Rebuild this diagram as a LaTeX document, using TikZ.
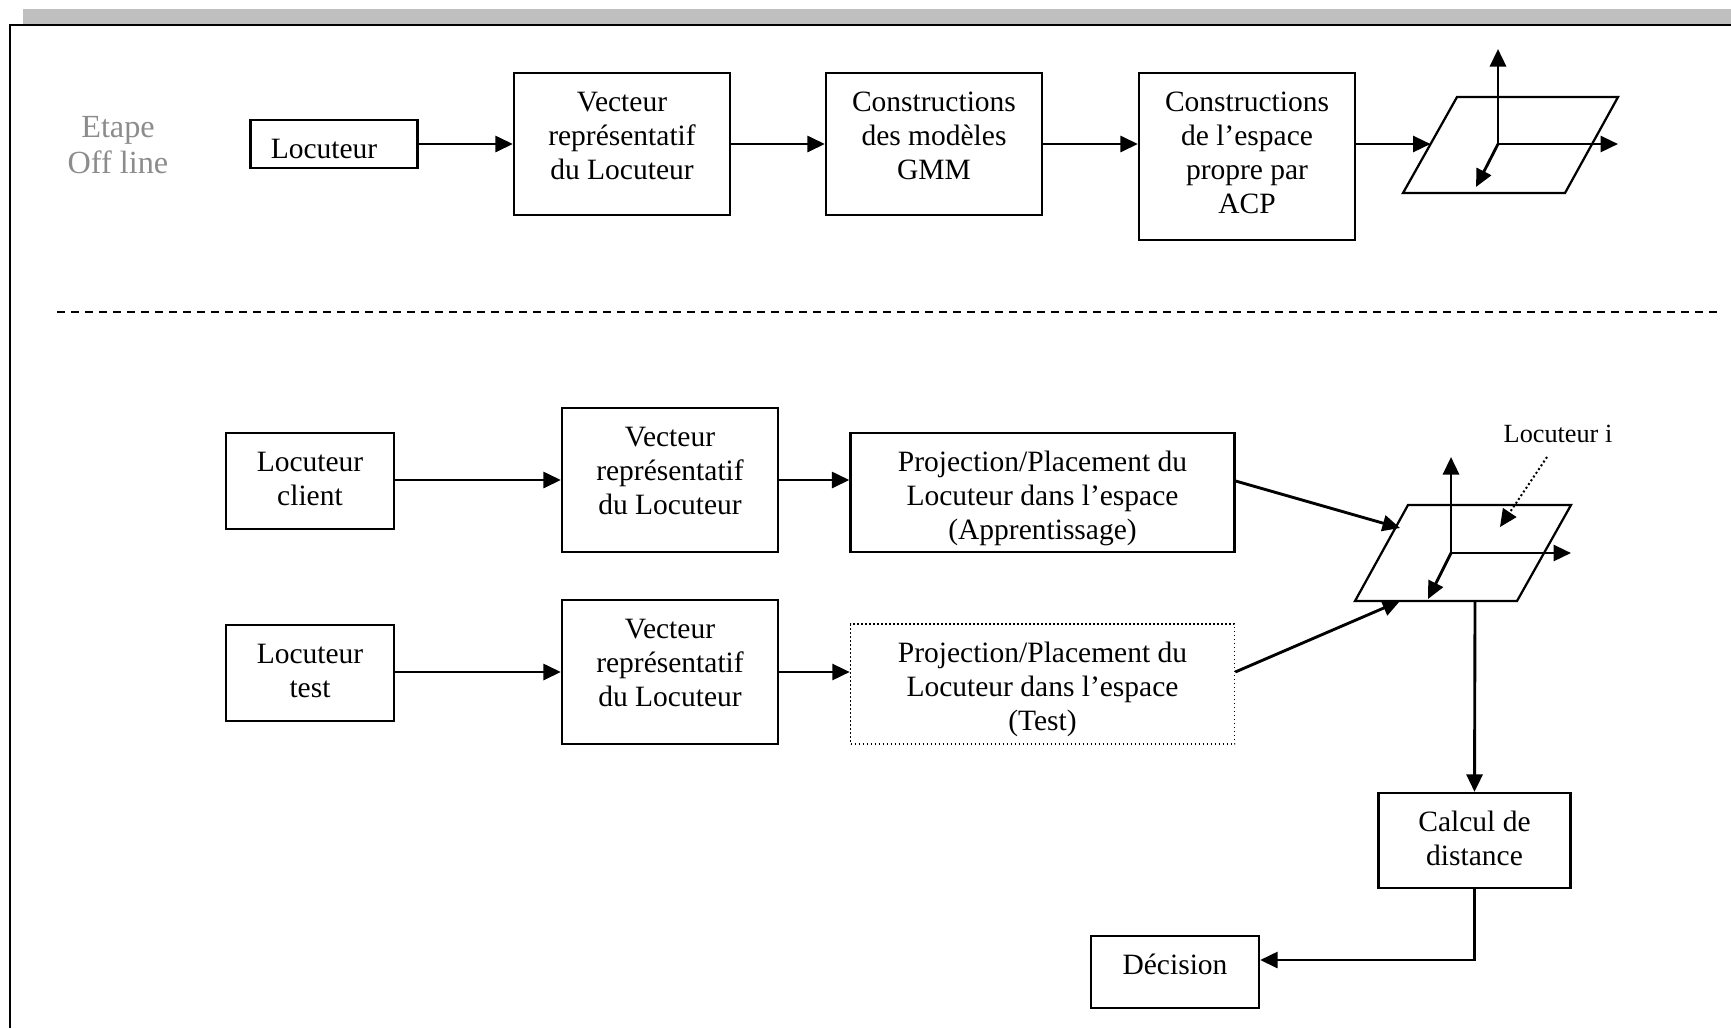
\documentclass[tikz,border=0pt]{standalone}
\usepackage{fontspec}
\setmainfont{Liberation Serif}
\usetikzlibrary{arrows.meta,calc}

\tikzset{
  blk/.style={draw, line width=0.9pt, inner sep=0pt},
  dotblk/.style={draw, line width=0.6pt, densely dotted, inner sep=0pt},
  txt/.style={anchor=north, align=center, inner sep=0pt,
              font=\fontsize{11.8pt}{13.6pt}\selectfont},
  tip/.style={-{Triangle[length=7pt,width=6.4pt]}},
  arr/.style={line width=1.15pt, tip},
  plane/.style={line width=0.9pt, line join=miter},
  axis/.style={line width=1.15pt, tip},
}
% caption placed inside a box, first baseline at a fixed depth below the top edge
\newcommand{\boxtext}[3]{\node[txt] (#2) at ($(#1.north)+(0,15)$) {\strut #3};}

\begin{document}
\begin{tikzpicture}[x=0.4pt, y=-0.4pt]
\useasboundingbox (0,0) rectangle (1731,1028);

% page frame with its grey top band
\fill[black!25] (23,8.5) rectangle (1731,24);
\draw[line width=1pt] (10,1028) -- (10,25) -- (1731,25);

% ---------- off-line stage ----------
\node[text=black!45, align=center, font=\fontsize{12.9pt}{14.4pt}\selectfont] (etape) at (118,145) {Etape\\Off line};

\node[blk, minimum width=66.8pt, minimum height=19.2pt] (loc0) at (334,144) {};
\node[blk, minimum width=86.4pt, minimum height=56.8pt] (vec0) at (622,144) {};
\node[blk, minimum width=86.4pt, minimum height=56.8pt] (gmm) at (934,144) {};
\node[blk, minimum width=86.4pt, minimum height=66.8pt] (acp) at (1247,156.5) {};
\boxtext{loc0}{loc0t}{Locuteur\hspace{8pt}}
\boxtext{vec0}{vec0t}{Vecteur\\représentatif\\du Locuteur}
\boxtext{gmm}{gmmt}{Constructions\\des modèles\\GMM}
\boxtext{acp}{acpt}{Constructions\\de l’espace\\propre par\\ACP}

% eigen-space sketch (off-line)
\coordinate (a1) at (1457,97);
\coordinate (b1) at (1618,97);
\coordinate (c1) at (1565,193);
\coordinate (d1) at (1403,193);
\coordinate (o1) at (1498,144);
\coordinate (p1w) at (1430.5,144);
\draw[plane] (a1) -- (b1) -- (c1) -- (d1) -- cycle;
\draw[axis] (o1) -- (1498,49);
\draw[axis] (o1) -- (1618,144);
\draw[axis] (o1) -- (1476,187);

\draw[arr] (loc0) -- (vec0);
\draw[arr] (vec0) -- (gmm);
\draw[arr] (gmm) -- (acp.west |- gmm.east);
\draw[arr] (acp.east |- p1w) -- (p1w);

% stage separator
\draw[line width=0.9pt, dash pattern=on 3pt off 2.6pt] (57,312) -- (1717,312);

% ---------- on-line stage ----------
\node[blk, minimum width=67.2pt, minimum height=38.4pt] (cli) at (310,481) {};
\node[blk, minimum width=86.4pt, minimum height=57.6pt] (vec1) at (670,480) {};
\node[blk, minimum width=153.6pt, minimum height=47.6pt] (proj1) at (1042.5,492.5) {};
\node[blk, minimum width=67.2pt, minimum height=38.4pt] (tst) at (310,673) {};
\node[blk, minimum width=86.4pt, minimum height=57.6pt] (vec2) at (670,672) {};
\node[dotblk, minimum width=153.6pt, minimum height=48pt] (proj2) at (1042.5,684) {};
\boxtext{cli}{clit}{Locuteur\\client}
\boxtext{vec1}{vec1t}{Vecteur\\représentatif\\du Locuteur}
\boxtext{proj1}{proj1t}{Projection/Placement du\\Locuteur dans l’espace\\(Apprentissage)}
\boxtext{tst}{tstt}{Locuteur\\test}
\boxtext{vec2}{vec2t}{Vecteur\\représentatif\\du Locuteur}
\boxtext{proj2}{proj2t}{Projection/Placement du\\Locuteur dans l’espace\\(Test)}

% eigen-space sketch (on-line)
\coordinate (a2) at (1408,505);
\coordinate (b2) at (1571,505);
\coordinate (c2) at (1517,601);
\coordinate (d2) at (1355,601);
\coordinate (o2) at (1451,553);
\coordinate (in1) at (1400,528);
\coordinate (in2) at (1400,601);
\coordinate (out2) at (1475,601);
\draw[plane] (a2) -- (b2) -- (c2) -- (d2) -- cycle;
\draw[axis] (o2) -- (1451,457);
\draw[axis] (o2) -- (1571,553);
\draw[axis] (o2) -- (1428,599);

\node[font=\fontsize{10.5pt}{12pt}\selectfont] (loci) at (1558,434) {Locuteur i};
\coordinate (locis) at (1547,457);
\coordinate (locipt) at (1500,527);
\draw[line width=0.8pt, densely dotted, tip] (locis) -- (locipt);

\node[blk, minimum width=76.8pt, minimum height=38pt] (calc) at (1474.5,840.5) {};
\node[blk, minimum width=67.2pt, minimum height=28.8pt] (dec) at (1175,972) {};
\boxtext{calc}{calct}{Calcul de\\distance}
\boxtext{dec}{dect}{Décision}

\draw[arr] (cli.east |- vec1.west) -- (vec1.west);
\draw[arr] (vec1) -- (proj1.west |- vec1.east);
\draw[arr] (tst.east |- vec2.west) -- (vec2.west);
\draw[arr] (vec2) -- (proj2.west |- vec2.east);
\draw[arr] (proj1.east |- 0,481) -- (in1);
\draw[arr] (proj2.east |- 0,672) -- (in2);
\draw[arr] (out2) -- (calc.north);
\draw[arr] (calc.south) |- ($(dec.east)+(0,-12)$);

\end{tikzpicture}
\end{document}
